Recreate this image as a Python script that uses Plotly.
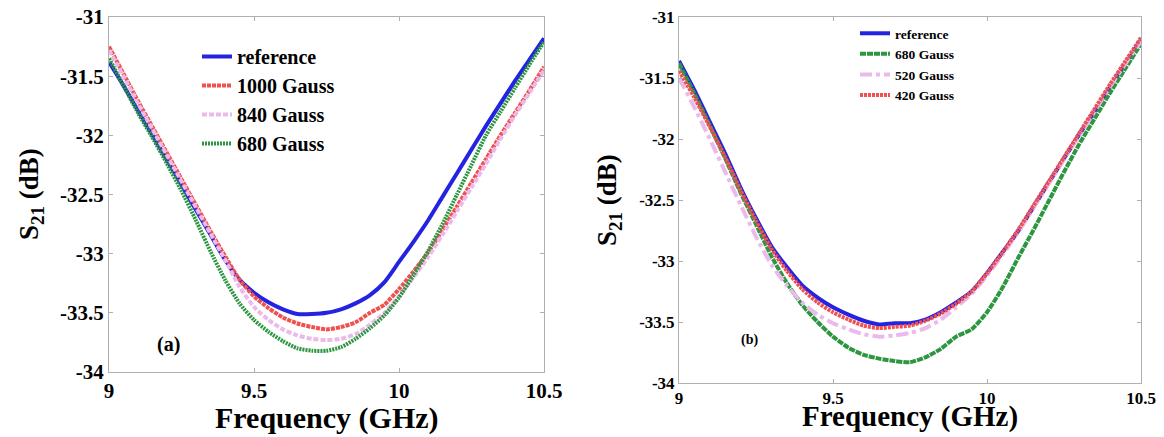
import plotly.graph_objects as go

freq = [9.00, 9.05, 9.10, 9.15, 9.20, 9.25, 9.30, 9.35, 9.40, 9.45, 9.50, 9.55, 9.60, 9.65, 9.70, 9.75,
        9.80, 9.85, 9.90, 9.95, 10.00, 10.05, 10.10, 10.15, 10.20, 10.25, 10.30, 10.35, 10.40, 10.45, 10.50]

# Panel (a)
a_reference = [-31.38, -31.58, -31.79, -32.00, -32.21, -32.42, -32.63, -32.84, -33.05, -33.22, -33.33, -33.41,
               -33.47, -33.51, -33.51, -33.50, -33.47, -33.42, -33.35, -33.24, -33.07, -32.90, -32.72, -32.52,
               -32.32, -32.12, -31.92, -31.73, -31.54, -31.36, -31.18]
a_1000 = [-31.25, -31.48, -31.71, -31.93, -32.15, -32.37, -32.59, -32.81, -33.02, -33.22, -33.36, -33.46,
          -33.54, -33.59, -33.62, -33.64, -33.62, -33.58, -33.50, -33.43, -33.30, -33.15, -32.99, -32.80,
          -32.60, -32.40, -32.20, -32.00, -31.81, -31.62, -31.42]
a_840 = [-31.28, -31.50, -31.73, -31.95, -32.17, -32.39, -32.61, -32.83, -33.05, -33.28, -33.45, -33.56,
         -33.64, -33.69, -33.72, -33.73, -33.72, -33.68, -33.60, -33.50, -33.36, -33.20, -33.03, -32.84,
         -32.64, -32.44, -32.24, -32.03, -31.83, -31.64, -31.45]
a_680 = [-31.35, -31.58, -31.81, -32.02, -32.24, -32.47, -32.72, -32.98, -33.22, -33.42, -33.56, -33.66,
         -33.74, -33.80, -33.82, -33.82, -33.79, -33.72, -33.63, -33.52, -33.37, -33.18, -32.98, -32.75,
         -32.50, -32.25, -32.00, -31.80, -31.60, -31.40, -31.21]

# Panel (b)
b_reference = [-31.36, -31.60, -31.86, -32.12, -32.40, -32.65, -32.88, -33.05, -33.20, -33.30, -33.38, -33.44,
               -33.49, -33.52, -33.51, -33.51, -33.48, -33.42, -33.34, -33.25, -33.10, -32.93, -32.76, -32.56,
               -32.36, -32.16, -31.96, -31.77, -31.57, -31.38, -31.19]
b_680 = [-31.38, -31.63, -31.89, -32.16, -32.44, -32.70, -32.96, -33.18, -33.36, -33.50, -33.62, -33.71,
         -33.77, -33.80, -33.82, -33.83, -33.79, -33.72, -33.62, -33.56, -33.42, -33.22, -32.98, -32.75,
         -32.51, -32.27, -32.04, -31.83, -31.62, -31.42, -31.22]
b_520 = [-31.50, -31.74, -32.00, -32.27, -32.54, -32.80, -33.03, -33.20, -33.34, -33.44, -33.51, -33.56,
         -33.60, -33.62, -33.61, -33.59, -33.55, -33.48, -33.38, -33.27, -33.12, -32.95, -32.77, -32.57,
         -32.37, -32.17, -31.97, -31.77, -31.57, -31.38, -31.20]
b_420 = [-31.44, -31.66, -31.90, -32.15, -32.42, -32.67, -32.90, -33.08, -33.23, -33.34, -33.42, -33.48,
         -33.53, -33.55, -33.54, -33.53, -33.49, -33.43, -33.35, -33.25, -33.10, -32.93, -32.75, -32.55,
         -32.35, -32.15, -31.95, -31.75, -31.55, -31.36, -31.17]

x_ticks = [9, 9.5, 10, 10.5]
x_ticklabels = ["9", "9.5", "10", "10.5"]
y_ticks = [-34, -33.5, -33, -32.5, -32, -31.5, -31]
y_ticklabels = ["-34", "-33.5", "-33", "-32.5", "-32", "-31.5", "-31"]

BLUE = "rgb(35,35,225)"
RED = "rgb(240,80,80)"
PINK = "rgb(235,185,235)"
GREEN = "rgb(45,150,65)"
FONT = "Liberation Serif, Times New Roman, serif"

# The page body has an 8px margin, so the figure is sized to fill the rest of the window
OFF = 8
W, H = 1164 - OFF, 437 - OFF


def px(sx):
    return (sx - OFF) / W


def py(sy):
    return 1 - (sy - OFF) / H


fig = go.Figure()

series_a = [("reference", a_reference, BLUE, "solid"),
            ("1000 Gauss", a_1000, RED, "4px,1px"),
            ("840 Gauss", a_840, PINK, "5px,2px"),
            ("680 Gauss", a_680, GREEN, "2px,1px")]
for name, ys, col, dash in series_a:
    fig.add_trace(go.Scatter(x=freq, y=ys, name=name, mode="lines",
                             line=dict(color=col, width=4, dash=dash, shape="spline", smoothing=0.6),
                             xaxis="x", yaxis="y", legend="legend"))

series_b = [("reference", b_reference, BLUE, "solid"),
            ("680 Gauss", b_680, GREEN, "6px,1px"),
            ("520 Gauss", b_520, PINK, "dashdot"),
            ("420 Gauss", b_420, RED, "3px,1px")]
for name, ys, col, dash in series_b:
    fig.add_trace(go.Scatter(x=freq, y=ys, name=name, mode="lines",
                             line=dict(color=col, width=4, dash=dash, shape="spline", smoothing=0.6),
                             xaxis="x2", yaxis="y2", legend="legend2"))

axis_common = dict(showline=True, linecolor="#b0b0b0", linewidth=1, mirror="ticks", ticks="inside",
                   ticklen=4, tickcolor="#b0b0b0", showgrid=False, zeroline=False, automargin=False,
                   ticklabeloverflow="allow")

fig.update_layout(
    width=W, height=H, margin=dict(l=0, r=0, t=0, b=0, autoexpand=False),
    paper_bgcolor="white", plot_bgcolor="white",
    font=dict(family=FONT, color="black"),
    xaxis=dict(domain=[px(109), px(544)], range=[9, 10.5], anchor="y",
               tickvals=x_ticks, ticktext=x_ticklabels,
               tickfont=dict(size=21, family=FONT, weight="bold"), **axis_common),
    yaxis=dict(domain=[py(372), py(17)], range=[-34, -31], anchor="x",
               tickvals=y_ticks, ticktext=y_ticklabels,
               tickfont=dict(size=21, family=FONT, weight="bold"), **axis_common),
    xaxis2=dict(domain=[px(679), px(1141)], range=[9, 10.5], anchor="y2",
                tickvals=x_ticks, ticktext=x_ticklabels,
                tickfont=dict(size=17, family=FONT, weight="bold"), **axis_common),
    yaxis2=dict(domain=[py(383), py(17)], range=[-34, -31], anchor="x2",
                tickvals=y_ticks, ticktext=y_ticklabels,
                tickfont=dict(size=17, family=FONT, weight="bold"), **axis_common),
    legend=dict(x=px(197), y=py(37), xanchor="left", yanchor="top",
                bgcolor="rgba(255,255,255,0)", font=dict(size=20, family=FONT, weight="bold"),
                itemclick=False),
    legend2=dict(x=px(855), y=py(18), xanchor="left", yanchor="top",
                 bgcolor="rgba(255,255,255,0)", font=dict(size=13.5, family=FONT, weight="bold"),
                 itemclick=False),
    showlegend=True,
)

annotations = [
    dict(text="<b>(a)</b>", x=168, y=344, size=20),
    dict(text="<b>(b)</b>", x=749, y=340, size=14),
    dict(text="<b>Frequency (GHz)</b>", x=327, y=418, size=30),
    dict(text="<b>Frequency (GHz)</b>", x=910, y=416, size=29),
]
for a in annotations:
    fig.add_annotation(text=a["text"], x=px(a["x"]), y=py(a["y"]), xref="paper", yref="paper",
                       showarrow=False, xanchor="center", yanchor="middle",
                       font=dict(size=a["size"], family=FONT, color="black"))
for xpos, ypos in [(31, 194), (609, 200)]:
    fig.add_annotation(text="<b>S<sub>21</sub> (dB)</b>", x=px(xpos), y=py(ypos),
                       xref="paper", yref="paper", showarrow=False, textangle=-90,
                       xanchor="center", yanchor="middle",
                       font=dict(size=27, family=FONT, color="black"))

fig.write_html("out.html")
